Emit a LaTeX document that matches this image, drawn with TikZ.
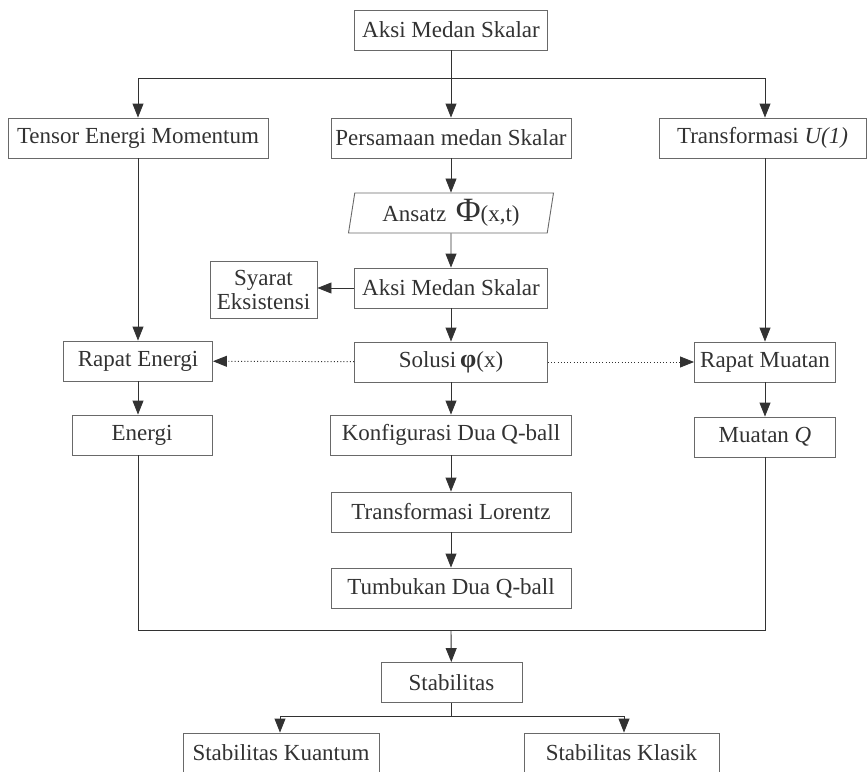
\documentclass[tikz,border=0pt]{standalone}
\usepackage{amsmath}
\usepackage{fontspec}
\setmainfont{Liberation Serif}
\usetikzlibrary{arrows.meta,shapes.geometric}
\definecolor{boxgray}{RGB}{105,105,105}
\definecolor{inkgray}{RGB}{50,50,50}

\begin{document}
\begin{tikzpicture}[x=1pt,y=-1pt,
  box/.style={draw=boxgray,line width=0.9pt,text=inkgray,minimum height=40pt,
    inner sep=0pt,font=\fontsize{23}{26}\selectfont},
  flow/.style={draw=inkgray,line width=0.9pt,-{Triangle[length=14pt,width=11pt]}},
  plainline/.style={draw=inkgray,line width=0.9pt},
  dotflow/.style={flow,dash pattern=on 1pt off 2.2pt}]
\useasboundingbox (0,0) rectangle (867,771);
\clip (0,0) rectangle (867,771);

% Top
\node[box,minimum width=193pt] (aksi) at (451,30) {Aksi Medan Skalar};
\coordinate (topL) at (138,78);
\coordinate (topR) at (765,78);
\draw[plainline] (topL) -- (topR);

% Second row
\node[box,minimum width=260pt] (tensor) at (138,138) {Tensor Energi Momentum};
\node[box,minimum width=240pt] (pers) at (451,138) {Persamaan medan Skalar};
\node[box,minimum width=207pt] (transU) at (762.5,138) {Transformasi \textit{U(1)}};
\draw[flow] (aksi) -- (pers);
\draw[flow] (topL) -- (tensor);
\draw[flow] (topR) -- (topR |- transU.north);

% Middle column
\node[box,trapezium,trapezium left angle=77,trapezium right angle=103,
  trapezium stretches body,minimum width=205pt] (ansatz) at (451,213)
  {Ansatz\ \,{\fontsize{34}{34}\selectfont Φ}(x,t)};
\node[box,minimum width=193pt] (aksiB) at (451,288) {Aksi Medan Skalar};
\node[box,minimum width=107pt,minimum height=57pt,align=center,
  font=\fontsize{23}{24}\selectfont] (syarat) at (263.5,289.5) {Syarat\\Eksistensi};
\node[box,minimum width=193pt] (solusi) at (451,362)
  {Solusi\,{\bfseries\fontsize{26}{26}\selectfont φ}(x)};
\node[box,minimum width=241pt] (konf) at (451,435) {Konfigurasi Dua Q-ball};
\node[box,minimum width=240pt] (lorentz) at (451,512) {Transformasi Lorentz};
\node[box,minimum width=240pt] (tumbukan) at (451,588) {Tumbukan Dua Q-ball};
\draw[flow] (pers) -- (ansatz);
\draw[flow] (ansatz) -- (aksiB);
\draw[flow] (aksiB.west) -- (aksiB.west -| syarat.east);
\draw[flow] (aksiB) -- (solusi);
\draw[flow] (solusi) -- (konf);
\draw[flow] (konf) -- (lorentz);
\draw[flow] (lorentz) -- (tumbukan);

% Left column
\node[box,minimum width=149pt] (rapatE) at (138,361) {Rapat Energi};
\node[box,minimum width=140pt] (energi) at (142,435) {Energi};
\draw[flow] (tensor) -- (rapatE);
\draw[flow] (rapatE.south) -- (rapatE.south |- energi.north);
\draw[dotflow] (solusi) -- (rapatE);

% Right column
\node[box,minimum width=141pt] (rapatM) at (765,362) {Rapat Muatan};
\node[box,minimum width=141pt] (muatan) at (765,437) {Muatan \textit{Q}};
\draw[flow] (rapatM.north |- transU.south) -- (rapatM.north);
\draw[flow] (rapatM) -- (muatan);
\draw[dotflow] (solusi) -- (rapatM);

% Collect to Stabilitas
\coordinate (botL) at (138,630);
\coordinate (botR) at (765,630);
\coordinate (botC) at (451,630);
\draw[plainline] (rapatE.south |- energi.south) -- (botL) -- (botR) -- (muatan.south);
\node[box,minimum width=141pt] (stab) at (451.5,682.5) {Stabilitas};
\draw[flow] (botC) -- (stab);

% Stabilitas split
\coordinate (stabL) at (280,716);
\coordinate (stabR) at (624,716);
\node[box,minimum width=196pt] (kuantum) at (281,753) {Stabilitas Kuantum};
\node[box,minimum width=195pt] (klasik) at (621.5,753) {Stabilitas Klasik};
\draw[plainline] (stab.south) -- (stab.south |- stabL);
\draw[plainline] (stabL) -- (stabR);
\draw[flow] (stabL) -- (stabL |- kuantum.north);
\draw[flow] (stabR) -- (stabR |- klasik.north);
\end{tikzpicture}
\end{document}
